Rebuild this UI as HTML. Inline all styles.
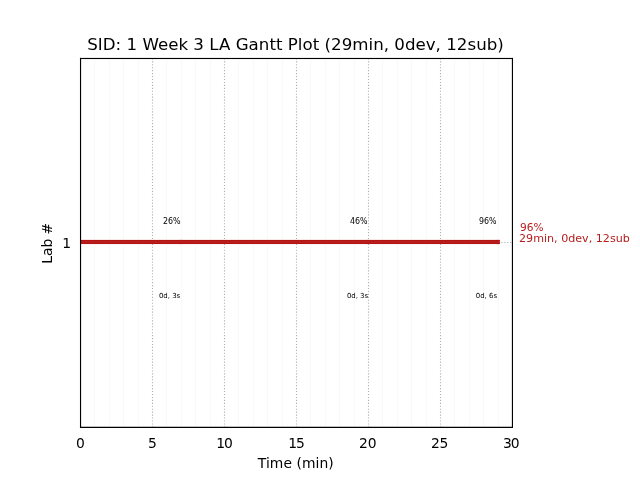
<!DOCTYPE html>
<html lang="en"><head><meta charset="utf-8"><title>SID: 1 Week 3 LA Gantt Plot</title>
<style>html,body{margin:0;padding:0;background:#fff;overflow:hidden}svg{display:block}text{font-family:"DejaVu Sans","Liberation Sans",sans-serif;fill:#000}</style></head><body>
<svg width="640" height="480" viewBox="0 0 640 480">
<rect width="640" height="480" fill="#fff"/>
<g stroke="#f9f9f9" stroke-width="1.1">
<line x1="94.5" y1="58" x2="94.5" y2="427"/>
<line x1="109.5" y1="58" x2="109.5" y2="427"/>
<line x1="123.5" y1="58" x2="123.5" y2="427"/>
<line x1="138.5" y1="58" x2="138.5" y2="427"/>
<line x1="166.5" y1="58" x2="166.5" y2="427"/>
<line x1="181.5" y1="58" x2="181.5" y2="427"/>
<line x1="195.5" y1="58" x2="195.5" y2="427"/>
<line x1="210.5" y1="58" x2="210.5" y2="427"/>
<line x1="238.5" y1="58" x2="238.5" y2="427"/>
<line x1="253.5" y1="58" x2="253.5" y2="427"/>
<line x1="267.5" y1="58" x2="267.5" y2="427"/>
<line x1="282.5" y1="58" x2="282.5" y2="427"/>
<line x1="310.5" y1="58" x2="310.5" y2="427"/>
<line x1="325.5" y1="58" x2="325.5" y2="427"/>
<line x1="339.5" y1="58" x2="339.5" y2="427"/>
<line x1="354.5" y1="58" x2="354.5" y2="427"/>
<line x1="382.5" y1="58" x2="382.5" y2="427"/>
<line x1="397.5" y1="58" x2="397.5" y2="427"/>
<line x1="411.5" y1="58" x2="411.5" y2="427"/>
<line x1="426.5" y1="58" x2="426.5" y2="427"/>
<line x1="454.5" y1="58" x2="454.5" y2="427"/>
<line x1="469.5" y1="58" x2="469.5" y2="427"/>
<line x1="483.5" y1="58" x2="483.5" y2="427"/>
<line x1="498.5" y1="58" x2="498.5" y2="427"/>
</g>
<g stroke="#b0b0b0" stroke-width="1.11" stroke-dasharray="1.111 1.833">
<line x1="152.5" y1="58.34" x2="152.5" y2="427"/>
<line x1="224.5" y1="58.34" x2="224.5" y2="427"/>
<line x1="296.5" y1="58.34" x2="296.5" y2="427"/>
<line x1="368.5" y1="58.34" x2="368.5" y2="427"/>
<line x1="440.5" y1="58.34" x2="440.5" y2="427"/>
<line x1="80.35" y1="242.5" x2="512" y2="242.5"/>
</g>
<rect x="80" y="239.9" width="419.85" height="4.15" fill="#b71c1c"/>
<rect x="80" y="240" width="419.5" height="1" fill="#b61414"/><rect x="80" y="243" width="419.5" height="1" fill="#b61414"/>
<g fill="#b71c1c" fill-opacity="0.1"><circle cx="181" cy="242" r="2.8"/><circle cx="368.1" cy="242" r="2.8"/><circle cx="497.6" cy="242" r="2.8"/></g>
<g fill="#000">
<rect x="79.97" y="57.92" width="433.03" height="1.13"/><rect x="79.97" y="426.75" width="433.03" height="1.25"/>
<rect x="79.97" y="57.92" width="1.13" height="370.08"/><rect x="511.87" y="57.92" width="1.13" height="370.08"/></g>
<text x="295.5" y="50" font-size="16.67" text-anchor="middle" textLength="416.6" lengthAdjust="spacing">SID: 1 Week 3 LA Gantt Plot (29min, 0dev, 12sub)</text>
<text x="80.5" y="448" font-size="13.89" text-anchor="middle">0</text>
<text x="152.5" y="448" font-size="13.89" text-anchor="middle">5</text>
<text x="224.5" y="448" font-size="13.89" text-anchor="middle" textLength="16.7" lengthAdjust="spacing">10</text>
<text x="296.5" y="448" font-size="13.89" text-anchor="middle" textLength="16.7" lengthAdjust="spacing">15</text>
<text x="367.85" y="448" font-size="13.89" text-anchor="middle" textLength="17.66" lengthAdjust="spacing">20</text>
<text x="439.65" y="448" font-size="13.89" text-anchor="middle" textLength="17.5" lengthAdjust="spacing">25</text>
<text x="511.3" y="448" font-size="13.89" text-anchor="middle" textLength="16.4" lengthAdjust="spacing">30</text>
<text x="295.8" y="467.5" font-size="13.89" text-anchor="middle" textLength="75.95" lengthAdjust="spacing">Time (min)</text>
<text x="71.1" y="247.5" font-size="13.89" text-anchor="end">1</text>
<text transform="translate(52.3 243.3) rotate(-90)" font-size="13.89" text-anchor="middle">Lab #</text>
<text x="180.5" y="224" font-size="8.6" text-anchor="end" textLength="17.6" lengthAdjust="spacingAndGlyphs">26%</text>
<text x="367.5" y="224" font-size="8.6" text-anchor="end" textLength="17.6" lengthAdjust="spacingAndGlyphs">46%</text>
<text x="496.5" y="224" font-size="8.6" text-anchor="end" textLength="17.6" lengthAdjust="spacingAndGlyphs">96%</text>
<text x="180.2" y="298" font-size="6.94" text-anchor="end">0d, 3s</text>
<text x="368.15" y="298" font-size="6.94" text-anchor="end">0d, 3s</text>
<text x="497.05" y="298" font-size="6.94" text-anchor="end">0d, 6s</text>
<text x="520" y="231" font-size="11.11" textLength="23.6" lengthAdjust="spacingAndGlyphs" style="fill:#b71c1c">96%</text>
<text x="519" y="241.6" font-size="11.11" style="fill:#b71c1c">29min, 0dev, 12sub</text>
</svg></body></html>
